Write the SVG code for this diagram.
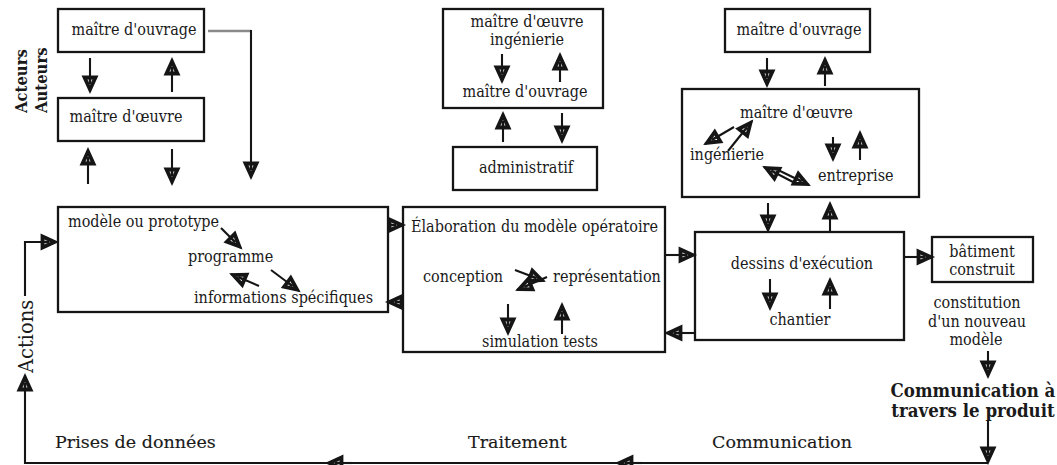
<svg xmlns="http://www.w3.org/2000/svg" width="1057" height="465" viewBox="0 0 1057 465">
  <style>
    .box { fill: #fff; stroke: #151515; stroke-width: 2.3; }
    .t { font-family: "DejaVu Serif Condensed", "DejaVu Serif", serif; font-stretch: semi-condensed; font-size: 16px; fill: #1a1a1a; }
    .w { font-family: "DejaVu Serif", serif; font-stretch: normal; }
    .m { text-anchor: middle; }
    .b { font-weight: bold; }
    .lb { font-size: 17.5px; stroke: #1a1a1a; stroke-width: 0.15; }
    .ar { fill: none; stroke: #151515; stroke-width: 2.1; marker-end: url(#ah); }
  </style>
  <defs>
    <!-- heavy open arrowhead with the shaft running into it -->
    <marker id="ah" viewBox="-18 -9 20 18" refX="0" refY="0" markerWidth="20" markerHeight="18" markerUnits="userSpaceOnUse" orient="auto" overflow="visible">
      <path d="M-2.5,0 L-14.5,-5.5 L-14.5,5.5 Z" fill="#fff" stroke="#151515" stroke-width="3.8" stroke-linejoin="miter"/>
      <path d="M-16,0 L-8,0" stroke="#151515" stroke-width="2.6"/>
    </marker>
  </defs>

  <rect width="1057" height="465" fill="#fff"/>

  <!-- side labels -->
  <g id="labels-side">
    <text class="t b" style="font-size:16.5px" transform="translate(27,113) rotate(-90)">Acteurs</text>
    <text class="t b" style="font-size:16.5px" transform="translate(47,113) rotate(-90)">Auteurs</text>
    <text class="t w" style="font-size:19.5px" transform="translate(33,373) rotate(-90)">Actions</text>
  </g>

  <!-- left column: client and architect -->
  <g id="mo-left">
    <rect class="box" x="58" y="9" width="146" height="43"/>
    <text class="t m" x="134" y="35">maître d'ouvrage</text>
  </g>
  <g id="moe-left">
    <rect class="box" x="58" y="98" width="146" height="43"/>
    <text class="t m" x="126" y="122">maître d'œuvre</text>
  </g>
  <g id="modele">
    <rect class="box" x="58" y="207" width="330" height="105"/>
    <text class="t" x="68" y="227">modèle ou prototype</text>
    <text class="t" x="188" y="262">programme</text>
    <text class="t" x="194" y="303">informations spécifiques</text>
  </g>

  <!-- centre column: engineering and administration -->
  <g id="moe-ingenierie">
    <rect class="box" x="443" y="9" width="160" height="99"/>
    <text class="t m" x="527" y="27">maître d'œuvre</text>
    <text class="t m" x="527" y="45">ingénierie</text>
    <text class="t m" x="525" y="97">maître d'ouvrage</text>
  </g>
  <g id="administratif">
    <rect class="box" x="453" y="147" width="144" height="43"/>
    <text class="t m" x="526" y="173">administratif</text>
  </g>
  <g id="elaboration">
    <rect class="box" x="403" y="207" width="262" height="145"/>
    <text class="t" x="411" y="232">Élaboration du modèle opératoire</text>
    <text class="t" x="423" y="282">conception</text>
    <text class="t" x="553" y="282">représentation</text>
    <text class="t m" x="540" y="347">simulation tests</text>
  </g>

  <!-- right column: construction -->
  <g id="mo-right">
    <rect class="box" x="725" y="9" width="145" height="43"/>
    <text class="t m" x="799" y="35">maître d'ouvrage</text>
  </g>
  <g id="moe-entreprise">
    <rect class="box" x="682" y="89" width="237" height="108"/>
    <text class="t" x="740" y="118">maître d'œuvre</text>
    <text class="t" x="690" y="160">ingénierie</text>
    <text class="t" x="818" y="181">entreprise</text>
  </g>
  <g id="execution">
    <rect class="box" x="695" y="232" width="209" height="108"/>
    <text class="t m" x="802" y="269">dessins d'exécution</text>
    <text class="t m" x="800" y="325">chantier</text>
  </g>
  <g id="batiment">
    <rect class="box" x="932" y="237" width="101" height="45"/>
    <text class="t m" x="982" y="257">bâtiment</text>
    <text class="t m" x="982" y="275">construit</text>
  </g>
  <g id="nouveau-modele">
    <text class="t m" x="977" y="308">constitution</text>
    <text class="t m" x="977" y="327">d'un nouveau</text>
    <text class="t m" x="976" y="345">modèle</text>
  </g>
  <g id="communication-produit">
    <text class="t m b" style="font-size:18.5px" x="973" y="397">Communication à</text>
    <text class="t m b" style="font-size:18.5px" x="973" y="417">travers le produit</text>
  </g>

  <!-- loop labels -->
  <g id="labels-bottom">
    <text class="t w lb" x="55" y="448">Prises de données</text>
    <text class="t w lb" x="468" y="448">Traitement</text>
    <text class="t w lb" x="712" y="448">Communication</text>
  </g>

  <g id="connectors">
    <!-- left column -->
    <path class="ar" d="M90,58 V92"/>
    <path class="ar" d="M172,92 V59"/>
    <path class="ar" d="M88,184 V149"/>
    <path class="ar" d="M172,149 V184"/>
    <path d="M208,31 H251" fill="none" stroke="#8a8a8a" stroke-width="2.6"/>
    <path class="ar" d="M251,30 V178"/>
    <!-- inside modèle -->
    <path class="ar" d="M221,228 L241,248"/>
    <path class="ar" d="M271,270 L299,291"/>
    <path class="ar" d="M259,286 L231,274"/>
    <!-- modèle / élaboration -->
    <path class="ar" d="M388,225 H404"/>
    <path class="ar" d="M403,302 H387"/>
    <!-- inside élaboration -->
    <path class="ar" d="M515,270 L544,281"/>
    <path class="ar" d="M547,277 L517,290"/>
    <path class="ar" d="M508,304 V334"/>
    <path class="ar" d="M562,334 V304"/>
    <!-- centre column -->
    <path class="ar" d="M502,54 V82"/>
    <path class="ar" d="M560,82 V54"/>
    <path class="ar" d="M503,142 V113"/>
    <path class="ar" d="M562,113 V142"/>
    <!-- élaboration / exécution -->
    <path class="ar" d="M666,255 H695"/>
    <path class="ar" d="M695,333 H666"/>
    <!-- right column -->
    <path class="ar" d="M767,58 V86"/>
    <path class="ar" d="M825,86 V58"/>
    <path class="ar" d="M734,127 L705,144"/>
    <path class="ar" d="M728,151 L752,121"/>
    <path class="ar" d="M833,137 V160"/>
    <path class="ar" d="M860,160 V132"/>
    <path class="ar" d="M793,182 L764,167"/>
    <path class="ar" d="M778,170 L809,185"/>
    <path class="ar" d="M768,203 V231"/>
    <path class="ar" d="M830,231 V203"/>
    <path class="ar" d="M770,279 V309"/>
    <path class="ar" d="M830,309 V279"/>
    <path class="ar" d="M904,257 H933"/>
    <!-- new model loop -->
    <path class="ar" d="M988,351 V377"/>
    <path class="ar" d="M988,420 V463"/>
    <path class="ar" d="M988,463 H25 V375"/>
    <path class="ar" d="M25,296 V242 H57"/>
    <path class="ar" d="M352,463 H327"/>
    <path class="ar" d="M642,463 H617"/>
  </g>
</svg>
